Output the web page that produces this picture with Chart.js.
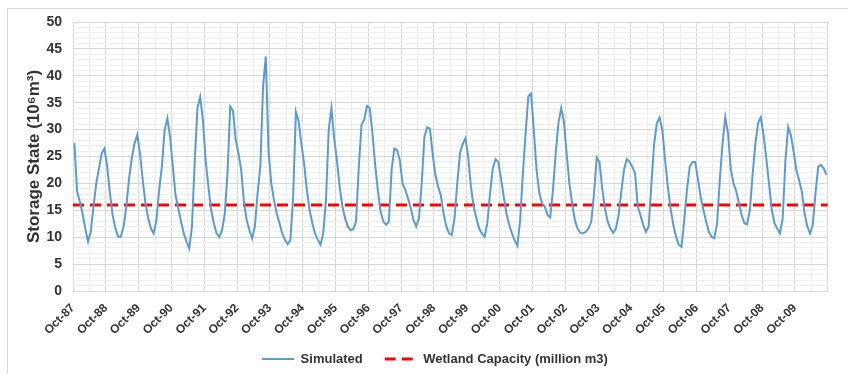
<!DOCTYPE html>
<html>
<head>
<meta charset="utf-8">
<script src="https://cdn.jsdelivr.net/npm/chart.js@4.4.1/dist/chart.umd.min.js"></script>
<style>
  html, body { margin: 0; padding: 0; background: #ffffff; }
  #wrap { position: relative; width: 848px; height: 374px; }
</style>
</head>
<body>
<div id="wrap"><canvas id="chart" width="848" height="374"></canvas></div>
<script>
// Year labels on the time axis (one per October)
const tickLabels = ['Oct-87','Oct-88','Oct-89','Oct-90','Oct-91','Oct-92','Oct-93','Oct-94',
  'Oct-95','Oct-96','Oct-97','Oct-98','Oct-99','Oct-00','Oct-01','Oct-02','Oct-03','Oct-04',
  'Oct-05','Oct-06','Oct-07','Oct-08','Oct-09'];

// Simulated monthly storage (10^6 m^3), Oct-87 .. Sep-10, one row per water year
const simulated = [
  27.5, 18.5, 16.6, 14.4, 11.6,  9.2, 11.0, 15.7, 20.0, 22.8, 25.6, 26.5,
  23.1, 18.2, 14.1, 11.6, 10.1, 10.1, 12.0, 15.7, 20.9, 24.7, 27.4, 29.0,
  25.6, 20.6, 16.3, 13.5, 11.6, 10.7, 13.2, 18.8, 23.1, 29.9, 32.1, 28.7,
  23.1, 17.8, 15.4, 12.9, 10.7,  9.2,  7.9, 12.0, 24.0, 34.0, 36.1, 31.8,
  24.3, 19.4, 15.1, 12.6, 10.7, 10.0, 11.3, 14.4, 22.0, 34.3, 33.5, 28.1,
  25.6, 22.5, 16.6, 13.2, 11.3,  9.8, 12.0, 18.2, 23.1, 38.0, 43.6, 26.0,
  20.0, 16.9, 14.4, 12.6, 10.7,  9.5,  8.7,  9.5, 17.5, 33.3, 31.5, 27.4,
  23.7, 18.8, 15.1, 12.6, 10.7,  9.5,  8.6, 10.7, 16.9, 29.9, 34.0, 28.4,
  24.3, 19.4, 15.7, 13.5, 12.0, 11.3, 11.5, 12.9, 23.0, 30.9, 31.9, 34.4,
  34.0, 29.3, 23.4, 18.5, 14.7, 12.9, 12.3, 12.9, 22.5, 26.5, 26.2, 24.3,
  20.0, 18.8, 17.2, 15.4, 13.2, 12.0, 13.5, 20.0, 28.7, 30.4, 30.2, 25.6,
  21.6, 19.4, 17.8, 14.4, 12.0, 10.7, 10.4, 13.5, 20.0, 25.6, 27.3, 28.4,
  25.0, 19.4, 15.7, 13.5, 11.6, 10.7, 10.1, 12.6, 18.2, 22.8, 24.5, 24.0,
  20.9, 17.5, 14.4, 12.3, 10.7,  9.4,  8.4, 13.2, 21.9, 29.3, 36.2, 36.7,
  29.9, 22.5, 18.2, 16.3, 15.7, 14.1, 13.7, 18.8, 25.6, 31.2, 34.0, 31.5,
  25.6, 20.0, 16.3, 13.2, 11.6, 10.8, 10.7, 11.0, 11.6, 12.9, 18.0, 24.8,
  24.0, 19.1, 15.4, 12.9, 11.6, 10.8, 11.6, 14.1, 18.5, 22.6, 24.5, 24.0,
  23.1, 21.9, 15.7, 14.1, 12.3, 11.0, 12.0, 20.0, 27.4, 31.2, 32.2, 29.9,
  24.3, 19.4, 15.4, 12.3, 10.1,  8.6,  8.2, 13.2, 18.8, 23.1, 24.0, 24.0,
  20.9, 17.5, 15.1, 12.9, 11.0, 10.1,  9.8, 12.5, 20.6, 27.4, 32.3, 29.3,
  22.8, 20.0, 18.6, 16.3, 14.1, 12.6, 12.4, 15.1, 21.6, 27.4, 31.2, 32.3,
  29.0, 24.7, 20.0, 15.1, 12.6, 11.6, 10.7, 13.5, 24.3, 30.5, 29.0, 25.9,
  22.5, 20.6, 18.5, 14.4, 12.0, 10.7, 12.3, 18.2, 23.1, 23.4, 22.8, 21.6
];

// Wetland capacity threshold (million m3)
const wetlandCapacity = 16;

const FONT = '"Liberation Sans", Arial, sans-serif';
const TEXT = '#333333';
const nMonths = simulated.length;

// each month sits in the middle of its slot on the month axis
const simulatedPoints = simulated.map((v, i) => ({ x: i + 0.5, y: v }));
const capacityPoints = [{ x: 0, y: wetlandCapacity }, { x: nMonths, y: wetlandCapacity }];

// white page with the light chart-area frame
const frame = {
  id: 'frame',
  beforeDraw(chart) {
    const c = chart.ctx;
    c.save();
    c.fillStyle = '#ffffff';
    c.fillRect(0, 0, chart.width, chart.height);
    c.strokeStyle = '#d9d9d9';
    c.lineWidth = 1;
    c.strokeRect(7.5, 8.5, chart.width + 10, chart.height + 10);
    c.restore();
  }
};

// legend samples use the dataset's own line style (width, colour, dash)
function legendItems(chart) {
  const items = Chart.defaults.plugins.legend.labels.generateLabels(chart);
  items.forEach((it) => {
    const ds = chart.data.datasets[it.datasetIndex];
    it.lineDash = ds.borderDash || [];
    it.lineWidth = ds.borderWidth;
    it.strokeStyle = ds.borderColor;
    it.pointStyle = 'line';
  });
  return items;
}

new Chart(document.getElementById('chart'), {
  type: 'line',
  data: {
    datasets: [
      {
        label: 'Simulated',
        data: simulatedPoints,
        borderColor: '#5B9BD5',
        backgroundColor: '#5B9BD5',
        borderWidth: 2,
        pointRadius: 0,
        pointStyle: 'line',
        tension: 0,
        fill: false
      },
      {
        label: 'Wetland Capacity (million m3)',
        data: capacityPoints,
        borderColor: '#FF0000',
        backgroundColor: '#FF0000',
        borderWidth: 3,
        borderDash: [11, 6],
        pointRadius: 0,
        pointStyle: 'line',
        fill: false
      }
    ]
  },
  options: {
    responsive: false,
    animation: false,
    layout: { padding: { left: 33, right: 11, top: 22, bottom: -1.5 } },
    plugins: {
      tooltip: { enabled: false },
      legend: {
        position: 'bottom',
        labels: {
          usePointStyle: true,
          pointStyleWidth: 32,
          boxHeight: 4,
          padding: 22,
          color: TEXT,
          font: { family: FONT, size: 13, weight: 'bold' },
          generateLabels: legendItems
        }
      }
    },
    scales: {
      x: {
        type: 'linear',
        min: 0,
        max: nMonths,
        afterBuildTicks: (s) => {
          const t = [];
          for (let v = 0; v <= nMonths; v += 6) t.push({ value: v });
          s.ticks = t;
        },
        afterFit: (s) => {
          // compact axis box; the rotated year labels may run into the legend's top gap
          s.height = 39.5;
          s._computeLabelArea = () => undefined;
        },
        ticks: {
          autoSkip: false,
          minRotation: 45,
          maxRotation: 45,
          padding: 10,
          color: TEXT,
          font: { family: FONT, size: 12, weight: 'bold' },
          callback: (v) => (v % 12 === 0 && v / 12 < tickLabels.length) ? tickLabels[v / 12] : ''
        },
        grid: {
          drawTicks: false,
          lineWidth: 1,
          color: (c) => (c.tick && c.tick.value % 12 === 0) ? '#d6d6d6' : '#ececec'
        },
        border: { display: false }
      },
      y: {
        min: 0,
        max: 50,
        afterBuildTicks: (s) => {
          const t = [];
          for (let v = 0; v <= 50; v += 1) t.push({ value: v });
          s.ticks = t;
        },
        afterFit: (s) => { s.width = 40; },
        ticks: {
          autoSkip: false,
          padding: 11,
          color: TEXT,
          font: { family: FONT, size: 14, weight: 'bold' },
          callback: (v) => (v % 5 === 0) ? String(v) : ''
        },
        grid: {
          drawTicks: false,
          lineWidth: 1,
          color: (c) => (c.tick && c.tick.value % 5 === 0) ? '#d6d6d6' : '#efefef'
        },
        border: { display: false },
        title: {
          display: true,
          text: 'Storage State (10\u2076m\u00B3)',
          color: TEXT,
          font: { family: FONT, size: 17, weight: 'bold' },
          padding: { top: -9.2, bottom: 0 }
        }
      }
    }
  },
  plugins: [frame]
});
</script>
</body>
</html>
